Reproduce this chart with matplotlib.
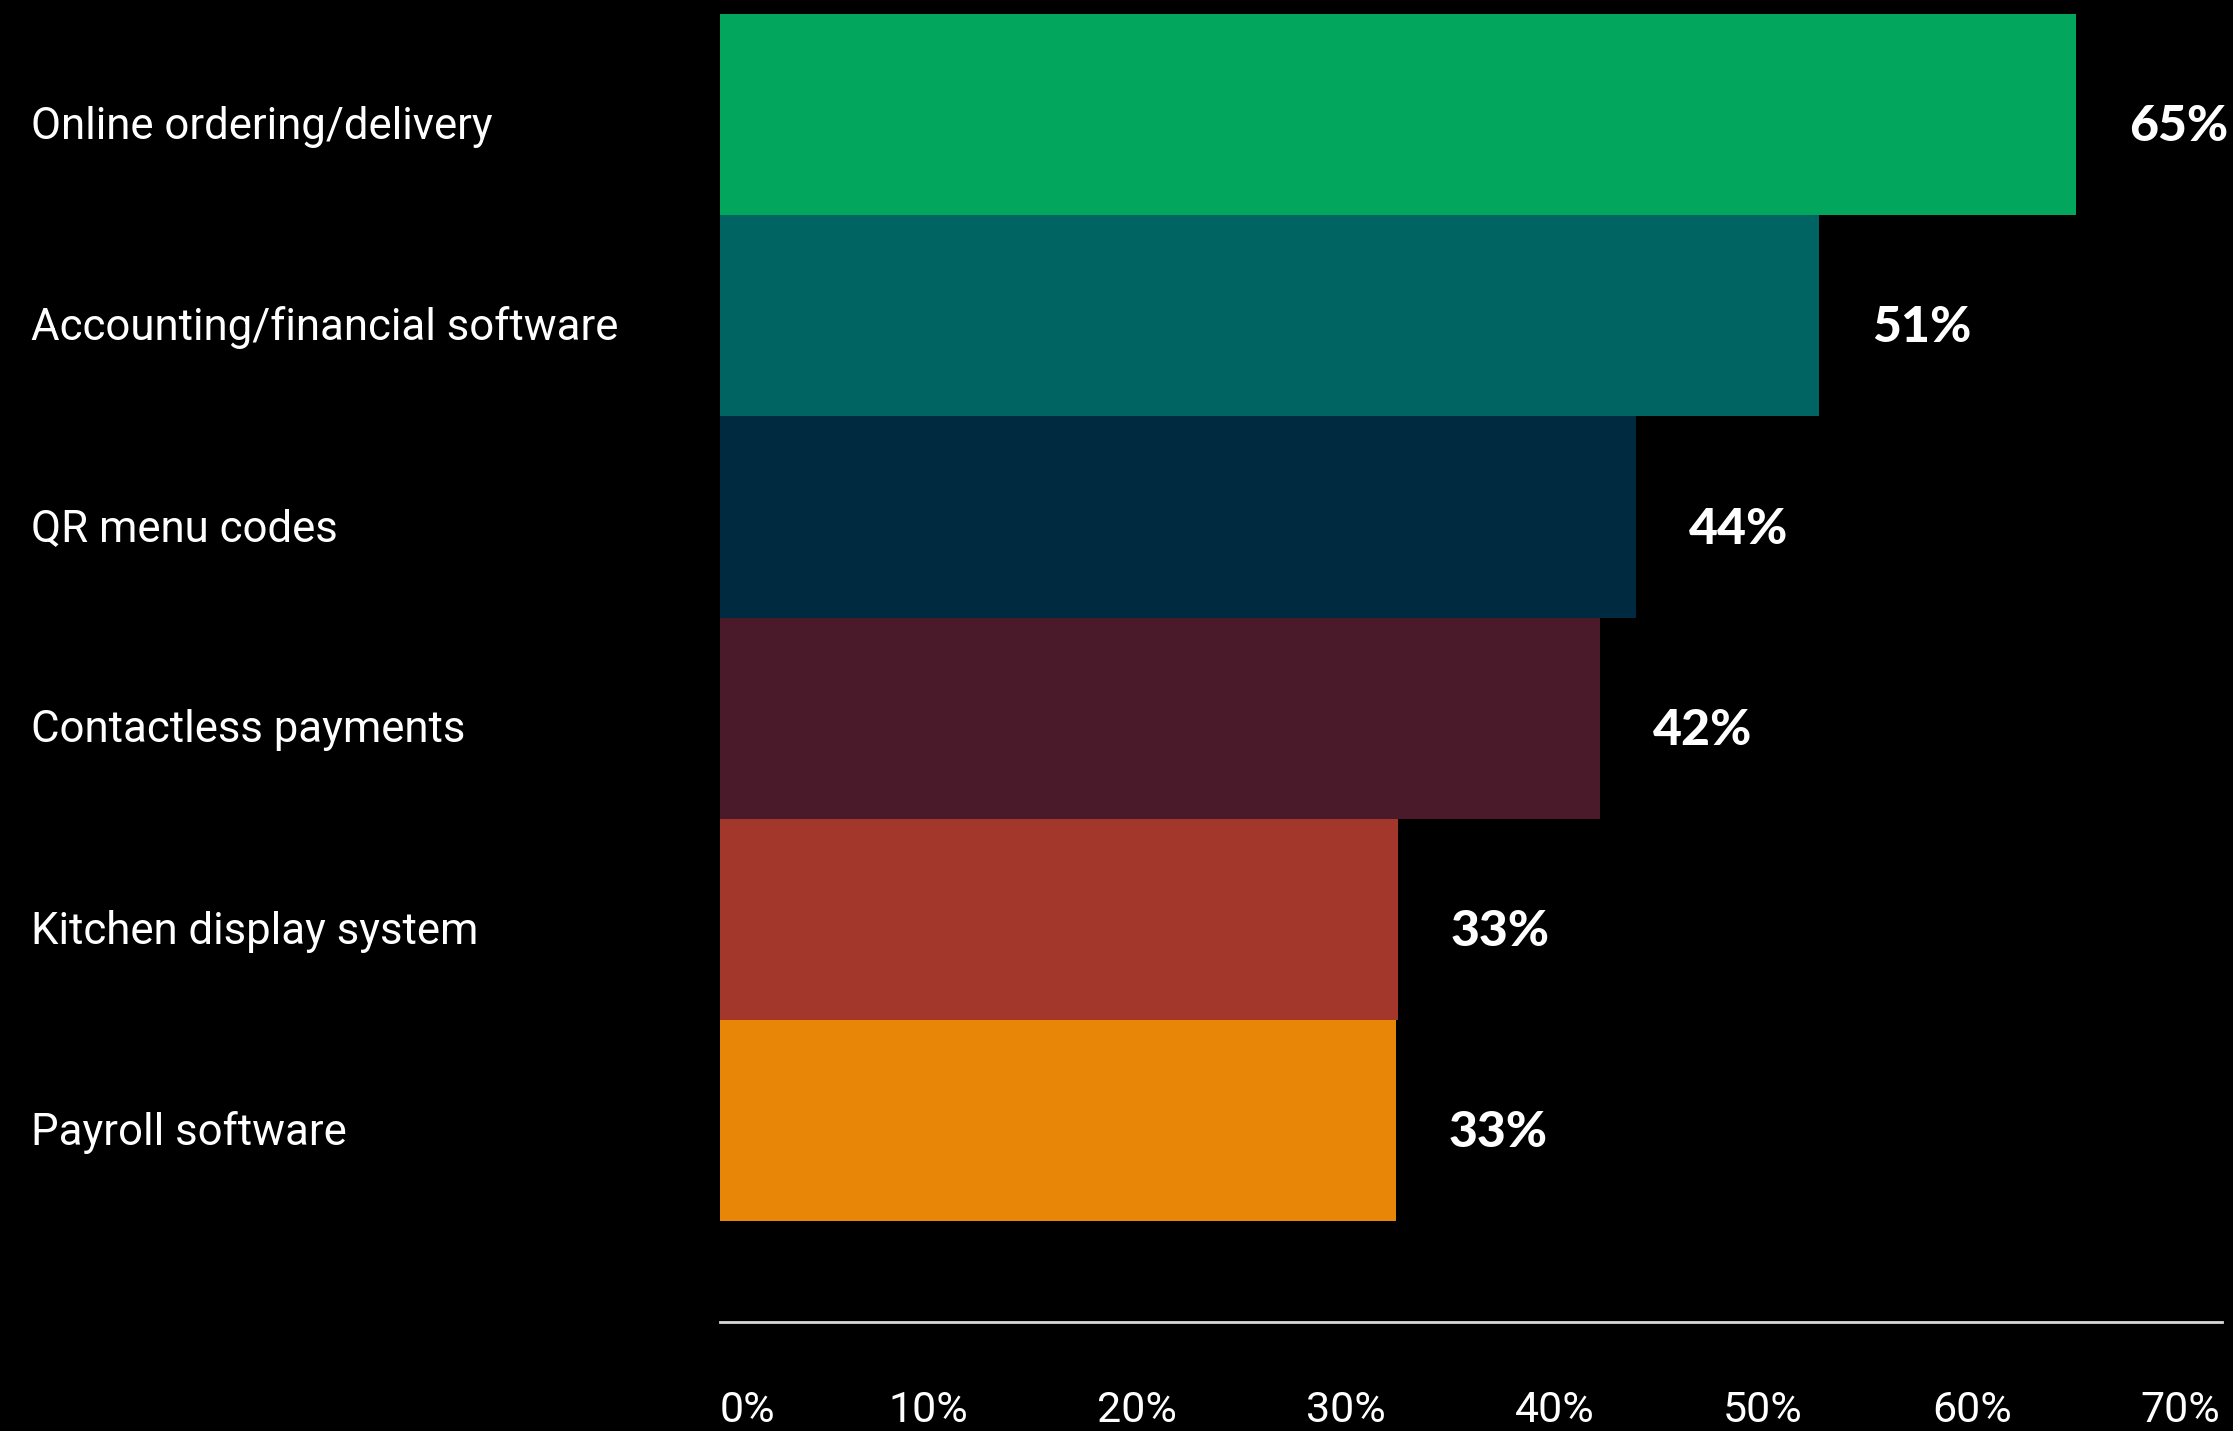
import matplotlib.pyplot as plt
from matplotlib import transforms

# data
categories = ['Online ordering/delivery', 'Accounting/financial software', 'QR menu codes',
              'Contactless payments', 'Kitchen display system', 'Payroll software']
values = [65, 52.7, 43.9, 42.2, 32.5, 32.4]
value_labels = ['65%', '51%', '44%', '42%', '33%', '33%']
colors = ['#03A65D', '#006462', '#002A3F', '#4A1A2A', '#A3372B', '#E88707']
ticks = [0, 10, 20, 30, 40, 50, 60, 70]
tick_labels = ['0%', '10%', '20%', '30%', '40%', '50%', '60%', '70%']

label_font = 'Roboto'
value_font = 'Lato'

fig = plt.figure(figsize=(22.33, 14.31), dpi=100, facecolor='black')
ax = fig.add_axes([0.3224, 0.0762, 0.9951 - 0.3224, 0.9902 - 0.0762])
ax.set_facecolor('black')

y = list(range(len(categories)))
ax.barh(y, values, height=1.0, color=colors, align='center')

ax.set_xlim(0, 72)
ax.set_ylim(6.0, -0.5)

for s in ['top', 'right', 'left']:
    ax.spines[s].set_visible(False)
ax.spines['bottom'].set_color('#d9d9d9')
ax.spines['bottom'].set_linewidth(2)

ax.set_yticks([])
ax.set_xticks(ticks)
ax.set_xticklabels(tick_labels, fontsize=31, color='white', family=label_font)
ax.tick_params(axis='x', length=0, pad=49)
ax.get_xticklabels()[0].set_horizontalalignment('left')

# category labels on the left
trans = transforms.blended_transform_factory(fig.transFigure, ax.transData)
for i, cat in enumerate(categories):
    ax.text(31 / 2233, i + 0.06, cat, transform=trans, ha='left', va='center',
            fontsize=31.5, color='white', family=label_font)

# value labels
for i, (v, lab) in enumerate(zip(values, value_labels)):
    ax.annotate(lab, (v, i + 0.06), xytext=(38, 0), textcoords='offset points',
                ha='left', va='center', fontsize=36, fontweight='black',
                color='white', family=value_font)

fig.savefig('out.png', dpi=100, facecolor='black')
